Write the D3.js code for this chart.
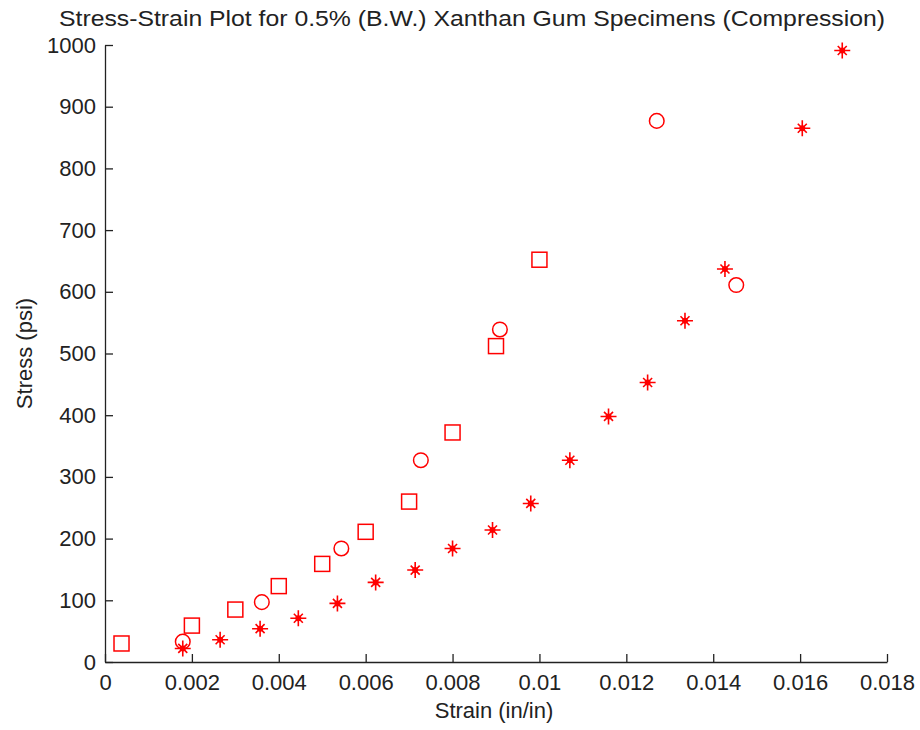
<!DOCTYPE html>
<html>
<head>
<meta charset="utf-8">
<script src="https://cdn.jsdelivr.net/npm/d3@7"></script>
<style>
  body { margin: 0; background: #fff; }
  text { font-family: "Liberation Sans", Arial, sans-serif; fill: #222; }
</style>
</head>
<body>
<div id="chart"></div>
<script>
// data
const squareStrain = [0.00038, 0.002, 0.003, 0.004, 0.005, 0.006, 0.007, 0.008, 0.009, 0.010];
const squareStress = [30, 59, 85, 123, 159, 211, 260, 372, 512, 652];

const circleStrain = [0.00179, 0.00361, 0.00544, 0.00727, 0.00909, 0.0127, 0.01453];
const circleStress = [33, 97, 184, 327, 539, 877, 611];

const starStrain = [0.00179, 0.00265, 0.00357, 0.00445, 0.00535, 0.00623, 0.00714, 0.0080, 0.00892,
                    0.0098, 0.0107, 0.01159, 0.01249, 0.01335, 0.01427, 0.01605, 0.01697];
const starStress = [22, 36, 54, 71, 95, 129, 149, 184, 214, 257, 327, 398, 453, 553, 637, 865, 991];

const xTicks = [0, 0.002, 0.004, 0.006, 0.008, 0.01, 0.012, 0.014, 0.016, 0.018];
const yTicks = [0, 100, 200, 300, 400, 500, 600, 700, 800, 900, 1000];

const margin = {top: 45, right: 33, bottom: 68, left: 105};
const width = 920 - margin.left - margin.right;
const height = 730 - margin.top - margin.bottom;

const svg = d3.select("#chart").append("svg")
              .attr("width", 920)
              .attr("height", 730);

const chart = svg.append("g")
                 .attr("transform", `translate(${margin.left}, ${margin.top})`);

// scales
const x = d3.scaleLinear().domain([0, 0.018]).range([0, width]);
const y = d3.scaleLinear().domain([0, 1000]).range([height, 0]);

// axes, ticks pointing inward
const xAxis = d3.axisBottom(x)
                .tickValues(xTicks)
                .tickSizeInner(-8)
                .tickSizeOuter(0)
                .tickPadding(12)
                .tickFormat(d => d === 0 ? "0" : String(+d.toFixed(3)));

const yAxis = d3.axisLeft(y)
                .tickValues(yTicks)
                .tickSizeInner(-8)
                .tickSizeOuter(0)
                .tickPadding(9)
                .tickFormat(d3.format("d"));

const gx = chart.append("g")
                .attr("transform", `translate(0,${height})`)
                .call(xAxis);

const gy = chart.append("g")
                .call(yAxis);

[gx, gy].forEach(g => {
  g.select(".domain").attr("stroke", "#222").attr("stroke-width", 1.3);
  g.selectAll(".tick line").attr("stroke", "#222").attr("stroke-width", 1.3);
  g.selectAll(".tick text")
   .style("font-family", '"Liberation Sans", Arial, sans-serif')
   .style("font-size", "22px")
   .attr("fill", "#222");
});
gx.selectAll(".tick text").attr("dy", "0.71em");

// title and axis labels
svg.append("text")
   .attr("x", 472)
   .attr("y", 26)
   .attr("text-anchor", "middle")
   .attr("textLength", 826)
   .attr("lengthAdjust", "spacingAndGlyphs")
   .style("font-size", "22px")
   .text("Stress-Strain Plot for 0.5% (B.W.) Xanthan Gum Specimens (Compression)");

svg.append("text")
   .attr("x", margin.left + width / 2 - 2)
   .attr("y", 718)
   .attr("text-anchor", "middle")
   .style("font-size", "22px")
   .text("Strain (in/in)");

svg.append("text")
   .attr("transform", `translate(32, ${margin.top + height / 2}) rotate(-90)`)
   .attr("text-anchor", "middle")
   .style("font-size", "22px")
   .text("Stress (psi)");

const red = "#ff0000";

// squares
const squares = squareStrain.map((d, i) => ({strain: d, stress: squareStress[i]}));
chart.append("g").selectAll("rect")
     .data(squares)
     .enter().append("rect")
       .attr("x", d => x(d.strain) - 7.5)
       .attr("y", d => y(d.stress) - 7.5)
       .attr("width", 15)
       .attr("height", 15)
       .attr("fill", "none")
       .attr("stroke", red)
       .attr("stroke-width", 1.5);

// circles
const circles = circleStrain.map((d, i) => ({strain: d, stress: circleStress[i]}));
chart.append("g").selectAll("circle")
     .data(circles)
     .enter().append("circle")
       .attr("cx", d => x(d.strain))
       .attr("cy", d => y(d.stress))
       .attr("r", 7.3)
       .attr("fill", "none")
       .attr("stroke", red)
       .attr("stroke-width", 1.5);

// asterisks: plus + small cross
const stars = starStrain.map((d, i) => ({strain: d, stress: starStress[i]}));
const starPath = "M-8,0H8M0,-8V8M-4.5,-4.5L4.5,4.5M-4.5,4.5L4.5,-4.5";
const gStar = chart.append("g").selectAll("g")
     .data(stars)
     .enter().append("g")
       .attr("transform", d => `translate(${x(d.strain)},${y(d.stress)})`);

gStar.append("path")
     .attr("d", starPath)
     .attr("stroke", red)
     .attr("stroke-width", 1.6)
     .attr("fill", "none");

gStar.append("circle")
     .attr("r", 3)
     .attr("fill", red);
</script>
</body>
</html>
